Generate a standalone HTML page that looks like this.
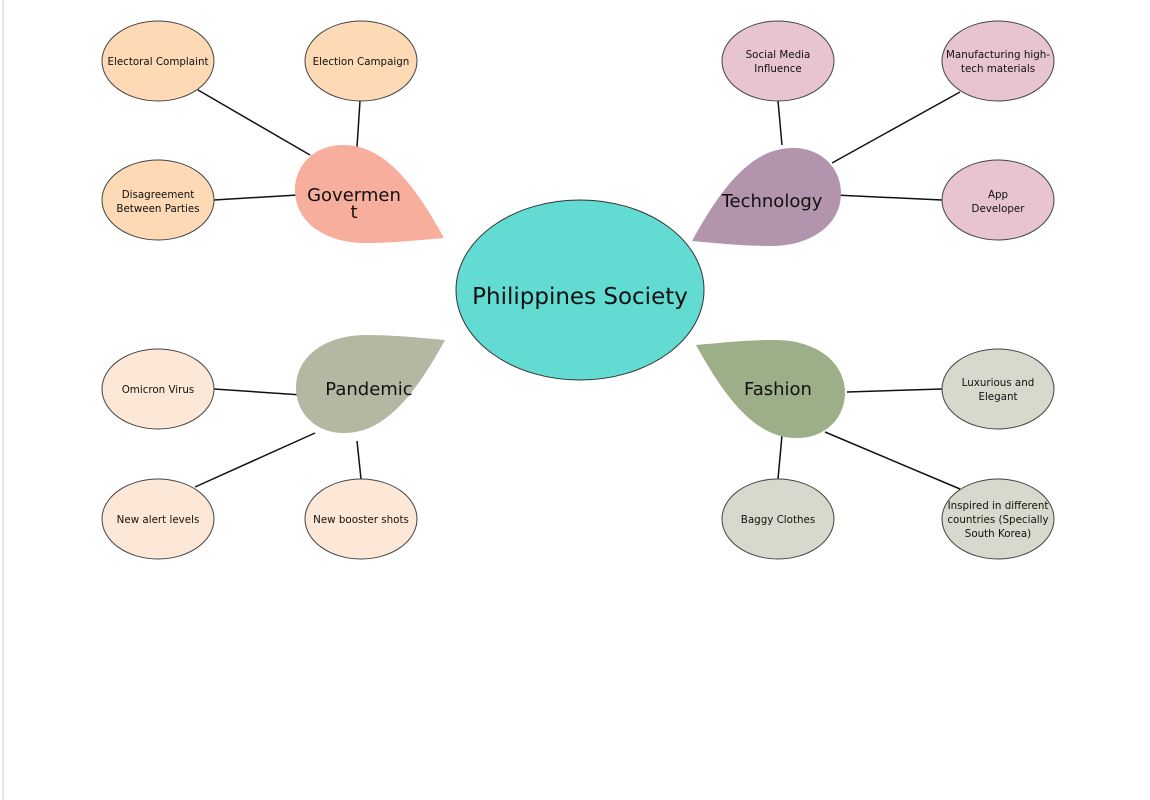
<!DOCTYPE html>
<html><head><meta charset="utf-8"><style>
body{margin:0;background:#fff;}
svg{display:block}
text{font-family:"DejaVu Sans","Liberation Sans",sans-serif;fill:#111;text-anchor:middle}
.s{font-size:10.3px}
.l{font-size:18px}
</style></head><body>
<svg width="1150" height="800" viewBox="0 0 1150 800">
<rect x="0" y="0" width="1150" height="800" fill="#fff"/>
<line x1="3" y1="0" x2="3" y2="800" stroke="#e6e6e6" stroke-width="2"/>
<g stroke="#111" stroke-width="1.5">
<line x1="198" y1="90" x2="310" y2="155"/>
<line x1="360" y1="101" x2="357" y2="147"/>
<line x1="214" y1="200" x2="298" y2="195"/>
<line x1="778" y1="101" x2="782" y2="145"/>
<line x1="960" y1="92" x2="832" y2="163"/>
<line x1="942" y1="200" x2="835" y2="195"/>
<line x1="214" y1="389" x2="302" y2="395"/>
<line x1="195" y1="487" x2="315" y2="433"/>
<line x1="357" y1="441" x2="361" y2="479"/>
<line x1="942" y1="389" x2="847" y2="392"/>
<line x1="778" y1="479" x2="782" y2="435"/>
<line x1="960" y1="489" x2="825" y2="432"/>
</g>
<defs><path id="leaf" d="M444,238 C415,185 385,146 345,145 C315,144 295,165 295,190 C295,222 325,243 365,243 C395,243 420,240 444,238Z"/></defs>
<use href="#leaf" fill="#f8ae9c"/>
<use href="#leaf" fill="#b394ad" transform="translate(1136,3) scale(-1,1)"/>
<use href="#leaf" fill="#b5b7a2" transform="translate(1,578) scale(1,-1)"/>
<use href="#leaf" fill="#9daf89" transform="translate(1140,583) scale(-1,-1)"/>
<ellipse cx="580" cy="290" rx="124" ry="90" fill="#62dcd2" stroke="#333" stroke-width="1"/>
<text x="580" y="304" style="font-size:23px">Philippines Society</text>
<g stroke="#444" stroke-width="1">
<ellipse cx="158" cy="61" rx="56" ry="40" fill="#fdd9b5"/>
<ellipse cx="361" cy="61" rx="56" ry="40" fill="#fdd9b5"/>
<ellipse cx="158" cy="200" rx="56" ry="40" fill="#fdd9b5"/>
<ellipse cx="778" cy="61" rx="56" ry="40" fill="#e8c4d0"/>
<ellipse cx="998" cy="61" rx="56" ry="40" fill="#e8c4d0"/>
<ellipse cx="998" cy="200" rx="56" ry="40" fill="#e8c4d0"/>
<ellipse cx="158" cy="389" rx="56" ry="40" fill="#fde8d8"/>
<ellipse cx="158" cy="519" rx="56" ry="40" fill="#fde8d8"/>
<ellipse cx="361" cy="519" rx="56" ry="40" fill="#fde8d8"/>
<ellipse cx="998" cy="389" rx="56" ry="40" fill="#d9d8cc"/>
<ellipse cx="778" cy="519" rx="56" ry="40" fill="#d9d8cc"/>
<ellipse cx="998" cy="519" rx="56" ry="40" fill="#d9d8cc"/>
</g>
<text class="s" x="158" y="65">Electoral Complaint</text>
<text class="s" x="361" y="65">Election Campaign</text>
<text class="s" x="158" y="198">Disagreement</text>
<text class="s" x="158" y="212">Between Parties</text>
<text class="s" x="778" y="58">Social Media</text>
<text class="s" x="778" y="72">Influence</text>
<text class="s" x="998" y="58">Manufacturing high-</text>
<text class="s" x="998" y="72">tech materials</text>
<text class="s" x="998" y="198">App</text>
<text class="s" x="998" y="212">Developer</text>
<text class="s" x="158" y="393">Omicron Virus</text>
<text class="s" x="158" y="523">New alert levels</text>
<text class="s" x="361" y="523">New booster shots</text>
<text class="s" x="998" y="386">Luxurious and</text>
<text class="s" x="998" y="400">Elegant</text>
<text class="s" x="778" y="523">Baggy Clothes</text>
<text class="s" x="998" y="509">Inspired in different</text>
<text class="s" x="998" y="523">countries (Specially</text>
<text class="s" x="998" y="537">South Korea)</text>
<text class="l" x="354" y="201">Govermen</text>
<text class="l" x="354" y="218">t</text>
<text class="l" x="772" y="207">Technology</text>
<text class="l" x="369" y="395">Pandemic</text>
<text class="l" x="778" y="395">Fashion</text>
</svg>
</body></html>
